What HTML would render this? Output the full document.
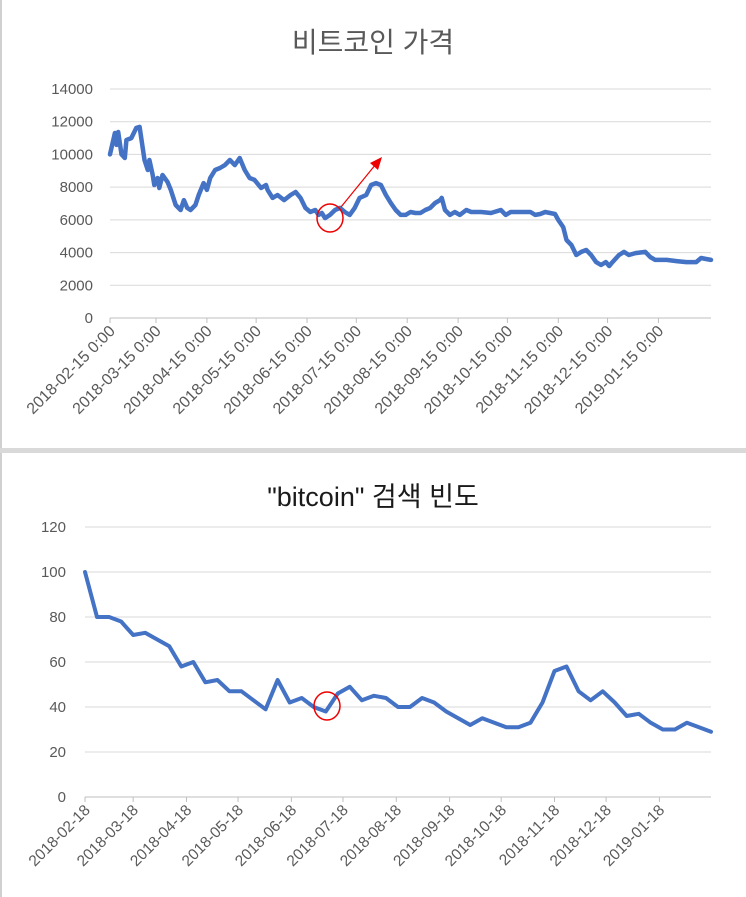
<!DOCTYPE html>
<html><head><meta charset="utf-8">
<style>
html,body{margin:0;padding:0;background:#fff;}
svg{display:block;font-family:"Liberation Sans","Noto Sans CJK KR",sans-serif;}
</style></head>
<body>
<svg id="c" width="746" height="897" viewBox="0 0 746 897" xmlns="http://www.w3.org/2000/svg">
<rect x="0" y="0" width="746" height="897" fill="#fff"/>
<rect x="0" y="0" width="2" height="897" fill="#d0d0d0"/>
<rect x="0" y="448" width="746" height="5" fill="#d9d9d9"/>
<text x="373" y="52" text-anchor="middle" font-size="28" fill="#595959">비트코인 가격</text>
<text x="373" y="506" text-anchor="middle" font-size="27" fill="#1a1a1a">"bitcoin" 검색 빈도</text>
<g id="top"></g>
<g id="bot"></g>
<ellipse cx="330" cy="218" rx="13" ry="14" fill="none" stroke="#e00" stroke-width="1.5"/>
<line x1="341" y1="207" x2="376" y2="164" stroke="#e00" stroke-width="1.2"/>
<polygon points="382,157 370,163 378,170" fill="#e00"/>
<ellipse cx="327" cy="706" rx="13" ry="14" fill="none" stroke="#e00" stroke-width="1.5"/>
</svg>
<script>
// Price chart data (days since 2018-02-15, price USD)
const priceDays = [0,2,3,4,5,7,9,10,13,16,18,21,23,24,26,27,29,30,32,35,37,40,43,45,47,49,52,54,57,59,61,64,67,70,73,76,79,82,85,88,92,95,96,99,102,106,110,113,116,119,122,125,127,129,131,134,137,140,143,146,149,152,156,159,162,165,168,171,174,177,180,183,186,189,192,195,198,201,202,204,207,210,213,217,220,226,232,238,241,244,250,256,259,262,265,268,271,273,276,278,281,284,287,290,293,296,299,302,304,306,310,313,316,320,326,329,332,339,345,351,357,360,363,366];
const priceValues = [10000,10880,11310,10580,11370,10000,9780,10880,11000,11620,11680,9660,9050,9660,8740,8130,8560,7950,8740,8320,7830,6910,6600,7210,6730,6600,6910,7520,8250,7830,8560,9050,9170,9350,9660,9350,9780,9050,8560,8440,7950,8130,7830,7340,7520,7210,7520,7700,7340,6730,6480,6600,6300,6420,6110,6300,6600,6730,6480,6300,6730,7340,7520,8130,8250,8130,7520,7030,6600,6300,6300,6480,6420,6420,6600,6730,7030,7210,7340,6600,6300,6480,6300,6600,6480,6480,6420,6600,6300,6480,6480,6480,6300,6360,6480,6420,6360,5990,5560,4770,4460,3850,4040,4160,3850,3420,3240,3420,3180,3420,3850,4040,3850,3970,4040,3730,3550,3550,3480,3420,3420,3670,3610,3550];
const priceTicks = [0,2000,4000,6000,8000,10000,12000,14000];
const priceDateLabels = ["2018-02-15 0:00","2018-03-15 0:00","2018-04-15 0:00","2018-05-15 0:00","2018-06-15 0:00","2018-07-15 0:00","2018-08-15 0:00","2018-09-15 0:00","2018-10-15 0:00","2018-11-15 0:00","2018-12-15 0:00","2019-01-15 0:00"];
const priceDateDays = [0,28,59,89,120,150,181,212,242,273,303,334];

// Search frequency data (weekly from 2018-02-18)
const searchValues = [100,80,80,78,72,73,70,67,58,60,51,52,47,47,43,39,52,42,44,40,38,46,49,43,45,44,40,40,44,42,38,35,32,35,33,31,31,33,42,56,58,47,43,47,42,36,37,33,30,30,33,31,29];
const searchTicks = [0,20,40,60,80,100,120];
const searchDateLabels = ["2018-02-18","2018-03-18","2018-04-18","2018-05-18","2018-06-18","2018-07-18","2018-08-18","2018-09-18","2018-10-18","2018-11-18","2018-12-18","2019-01-18"];
const searchDateDays = [0,28,59,89,120,150,181,212,242,273,303,334];

const NS="http://www.w3.org/2000/svg";
function mk(tag,attrs,parent){const e=document.createElementNS(NS,tag);for(const k in attrs)e.setAttribute(k,attrs[k]);parent.appendChild(e);return e;}

function drawChart(g,opt){
  const {x0,x1,y0,y1,ymax,xmax,ticks,labels,labelDays,px,py,lblX,lblSize,prefix,lw} = opt;
  const xs=d=>x0+(d/xmax)*(x1-x0);
  const ys=v=>y0-(v/ymax)*(y0-y1);
  ticks.forEach(t=>{
    if(t>0){
      const l=mk('line',{x1:x0,x2:x1,y1:ys(t),y2:ys(t),stroke:'#d9d9d9','stroke-width':1},g);
      
      
    }
    const tx=mk('text',{x:lblX,y:ys(t)+5,'text-anchor':'end','font-size':15,fill:'#595959'},g);
    tx.textContent=t;
    
    
  });
  const ax=mk('line',{x1:x0,x2:x1,y1:y0,y2:y0,stroke:'#bfbfbf','stroke-width':1},g);
  
  
  labels.forEach((s,i)=>{
    const x=xs(labelDays[i]);
    const tk=mk('line',{x1:x,x2:x,y1:y0,y2:y0+5,stroke:'#bfbfbf'},g);
    
    
    const t=mk('text',{x:x+6,y:y0+14,'text-anchor':'end','font-size':lblSize,fill:'#595959',transform:`rotate(-45 ${x+6} ${y0+14})`},g);
    t.textContent=s;
    
    
  });
  const pts=px.map((d,i)=>xs(d).toFixed(1)+','+ys(py[i]).toFixed(1)).join(' ');
  const pl=mk('polyline',{points:pts,fill:'none',stroke:'#4472C4','stroke-width':lw,'stroke-linejoin':'round','stroke-linecap':'round'},g);
  
  
}

drawChart(document.getElementById('top'),{x0:110,x1:711,y0:318,y1:89,ymax:14000,xmax:366,ticks:priceTicks,labels:priceDateLabels,labelDays:priceDateDays,px:priceDays,py:priceValues,lblX:93,lblSize:16,prefix:'price',lw:4.5});
const weekDays=searchValues.map((v,i)=>i*7);
drawChart(document.getElementById('bot'),{x0:85,x1:711,y0:797,y1:527,ymax:120,xmax:364,ticks:searchTicks,labels:searchDateLabels,labelDays:searchDateDays,px:weekDays,py:searchValues,lblX:66,lblSize:15.5,prefix:'search',lw:4});
</script>
</body></html>
